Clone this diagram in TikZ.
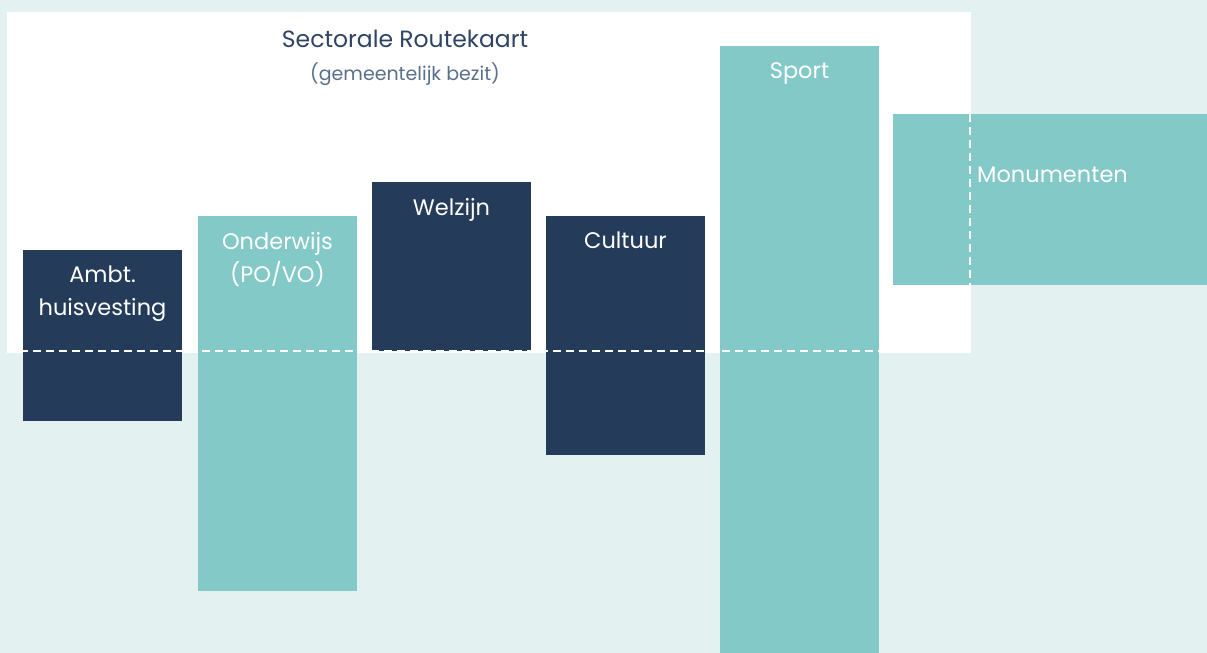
\documentclass[tikz,border=0pt]{standalone}
\usepackage{fontspec}
\setmainfont{Poppins}
\definecolor{navy}{HTML}{243B5A}
\definecolor{teal}{HTML}{82C9C8}
\definecolor{mist}{HTML}{E3F2F1}
\definecolor{titlecol}{HTML}{2F4463}
\definecolor{subcol}{HTML}{5B6F8C}
\tikzset{
    bar/.style={anchor=north west, inner sep=0pt, outer sep=0pt},
    barlabel/.style={anchor=north, text=white, font=\fontsize{22.5}{33}\selectfont, align=center, inner sep=0pt},
    split/.style={white, line width=2.4pt, dash pattern=on 8pt off 5pt}
}
\begin{document}
\begin{tikzpicture}[x=1pt,y=-1pt]
        %% Background
        \useasboundingbox (0,0) rectangle (1207,653);
        \fill[mist] (0,0) rectangle (1207,653);
        \fill[white] (7,12) rectangle (971,353);
        %% Title
        \node[anchor=base, text=titlecol, font=\fontsize{23.5}{28}\selectfont] (title) at (405,47) {Sectorale Routekaart};
        \node[anchor=base, text=subcol, font=\fontsize{19}{23}\selectfont] (subtitle) at (405,80) {(gemeentelijk bezit)};
        %% Bars
        \node[bar, fill=navy, minimum width=159pt, minimum height=171pt] (ambt) at (23,250) {};
        \node[bar, fill=teal, minimum width=159pt, minimum height=375pt] (onderwijs) at (198,216) {};
        \node[bar, fill=navy, minimum width=159pt, minimum height=169pt] (welzijn) at (372,182) {};
        \node[bar, fill=navy, minimum width=159pt, minimum height=239pt] (cultuur) at (546,216) {};
        \node[bar, fill=teal, minimum width=159pt, minimum height=607pt] (sport) at (720,46) {};
        \node[bar, fill=teal, minimum width=314pt, minimum height=171pt] (monumenten) at (893,114) {};
        %% Labels
        \node[barlabel] (ambtlabel) at ([yshift=-16pt]ambt.north) {Ambt.\\huisvesting};
        \node[barlabel] (onderwijslabel) at ([yshift=-16pt]onderwijs.north) {Onderwijs\\(PO/VO)};
        \node[barlabel] (welzijnlabel) at ([yshift=-16pt]welzijn.north) {Welzijn};
        \node[barlabel] (cultuurlabel) at ([yshift=-16pt]cultuur.north) {Cultuur};
        \node[barlabel] (sportlabel) at ([yshift=-16pt]sport.north) {Sport};
        \node[barlabel, anchor=west] (monumentenlabel) at (977,175) {Monumenten};
        %% Dashed lines
        \coordinate (hstart) at (7,351);
        \coordinate (hend) at (879,351);
        \draw[split] (hstart) -- (hend);
        \coordinate (vtop) at (970,114);
        \coordinate (vbot) at (970,285);
        \draw[split] (vtop) -- (vbot);
    \end{tikzpicture}
\end{document}
